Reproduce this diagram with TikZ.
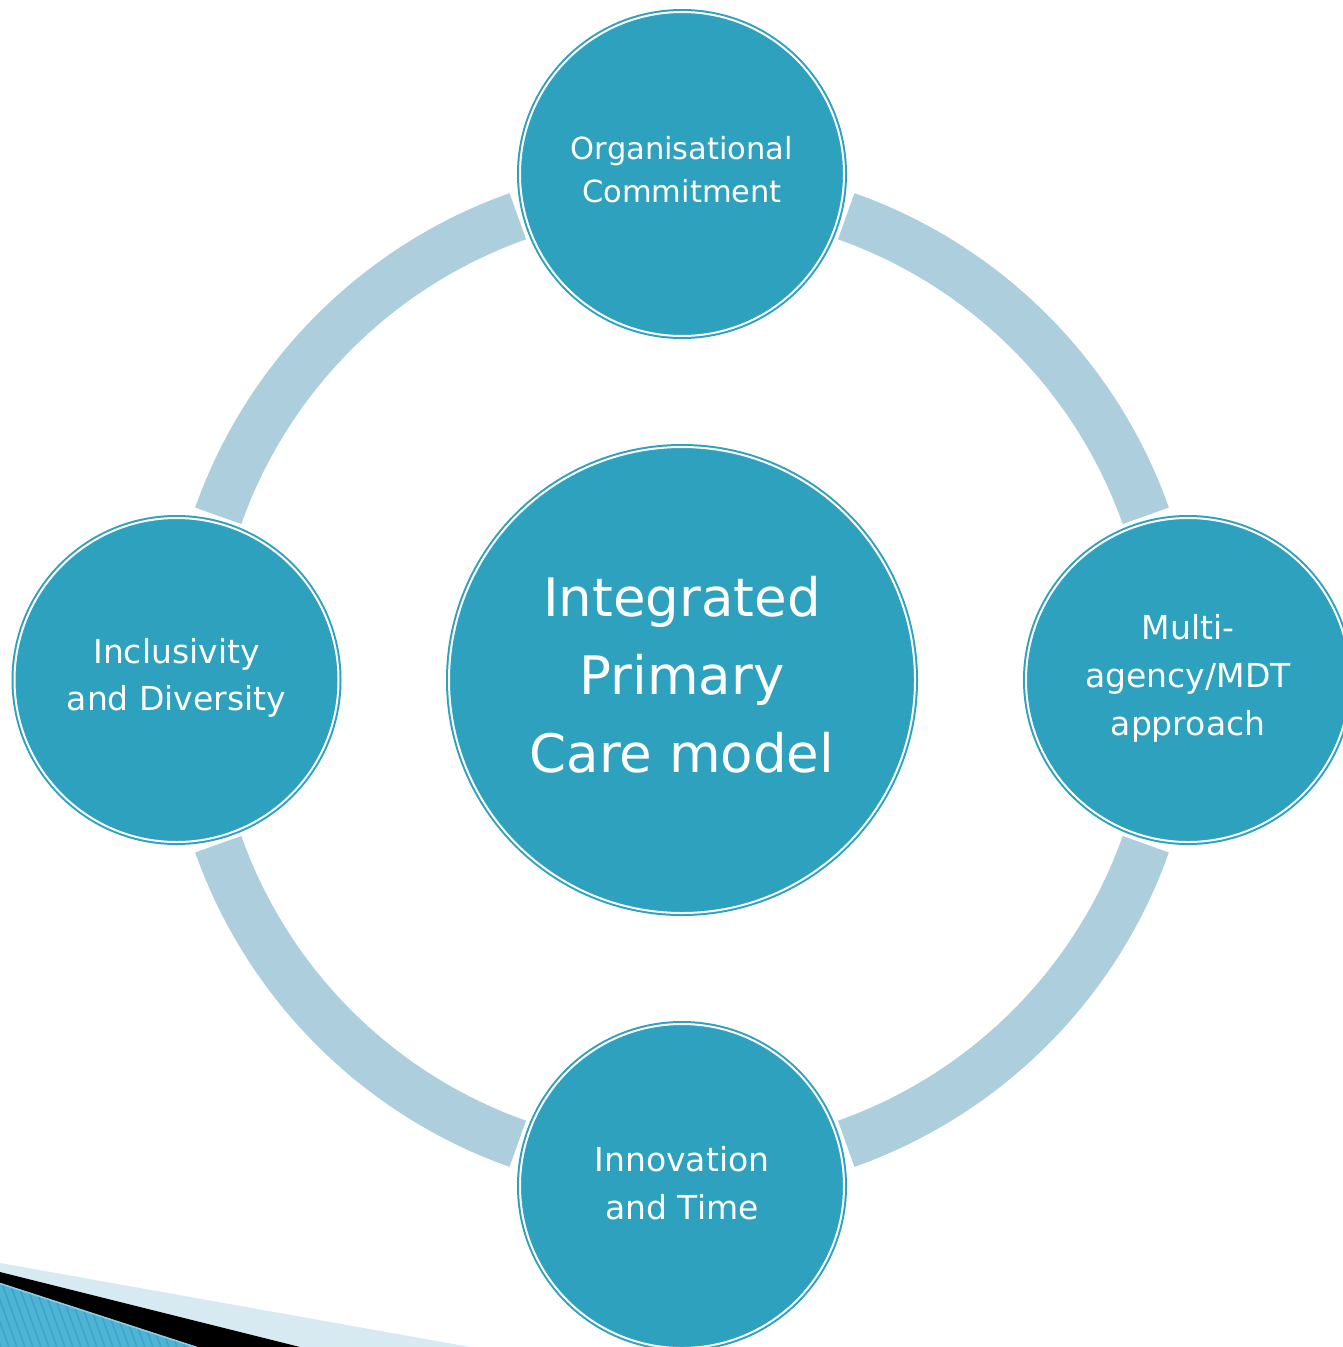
\documentclass[tikz,border=0pt]{standalone}
\usepackage{fontspec}
\setmainfont{DejaVu Sans}
\definecolor{tealc}{HTML}{2EA1BF}
\definecolor{ringc}{HTML}{ADCEDC}
\definecolor{lightbl}{HTML}{D7EAF2}
\definecolor{stripeb}{HTML}{4DB4D6}
\definecolor{stripedk}{HTML}{3DA3C6}
\definecolor{stripehi}{HTML}{8ECDE2}
\tikzset{
  bubble/.style={circle, fill=tealc, draw=tealc, double=white, line width=2pt,
    double distance=2pt, inner sep=0pt, minimum size=#1},
  bubbletext/.style={text=white, align=center, inner sep=0pt},
  ringarc/.style={draw=ringc, line width=49pt, line cap=butt}
}
\begin{document}
\begin{tikzpicture}[x=1pt,y=-1pt]
\useasboundingbox (0,0) rectangle (1342,1347);
\fill[white] (0,0) rectangle (1342,1347);
\coordinate (C) at (682,680);
% ring segments
\foreach \a in {19.5,109.5,199.5,289.5}{
  \draw[ringarc] (C) ++(\a:492) arc[start angle=\a, delta angle=51, radius=492];
}
% bottom-left decoration
\fill[lightbl] (0,1263) -- (470,1347) -- (0,1347) -- cycle;
\fill[black] (0,1272) -- (300,1347) -- (0,1347) -- cycle;
\begin{scope}
  \clip (0,1283) -- (197,1347) -- (0,1347) -- cycle;
  \fill[stripeb] (0,1280) rectangle (200,1347);
  \foreach \i in {-10,...,30}{
    \draw[stripedk, line width=1.4pt] (\i*8,1278) -- ++(26,72);
  }
\end{scope}
\draw[stripehi, line width=1.5pt] (0,1283.5) -- (197,1347.5);
% circles
\node[bubble=324pt] (top) at (682,174) {};
\node[bubble=324pt] (right) at (1188,680) {};
\node[bubble=324pt] (bottom) at (682,1186) {};
\node[bubble=324pt] (left) at (176.5,680) {};
\node[bubble=466pt] (center) at (682,680) {};
% texts
\node[bubbletext, font=\fontsize{30.5}{43}\selectfont] (toptext) at (682,170) {Organisational\\Commitment};
\node[bubbletext, font=\fontsize{33}{48}\selectfont] (righttext) at (1188,678) {Multi-\\agency/MDT\\approach};
\node[bubbletext, font=\fontsize{33}{48}\selectfont] (bottomtext) at (682,1183) {Innovation\\and Time};
\node[bubbletext, font=\fontsize{33}{47}\selectfont] (lefttext) at (176.5,678) {Inclusivity\\and Diversity};
\node[bubbletext, font=\fontsize{53}{78}\selectfont] (centertext) at (682,675) {Integrated\\Primary\\Care model};
\end{tikzpicture}
\end{document}
